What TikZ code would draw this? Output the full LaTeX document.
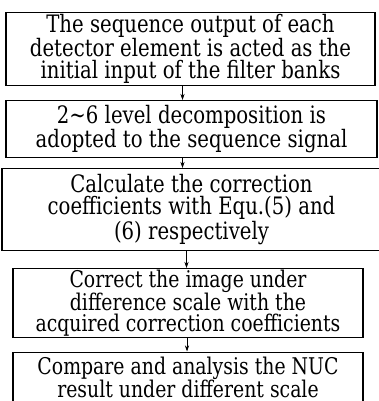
\documentclass[tikz,border=0pt]{standalone}
\usepackage{fontspec}
\setmainfont{DejaVu Serif}[FakeStretch=0.82]
\usetikzlibrary{arrows.meta}

\begin{document}
\begin{tikzpicture}[x=1pt,y=-1pt,
    stepbox/.style={draw, line width=1.2pt, inner sep=0pt, align=center,
        anchor=north, font=\fontsize{24}{22}\selectfont},
    arr/.style={-{Stealth[length=6pt,width=4pt]}, line width=0.7pt}]
    \useasboundingbox (0,0) rectangle (379,401);
    % the five steps
    \node[stepbox, minimum width=369pt, minimum height=73pt] (detect) at (190.5,12)
        {The sequence output of each\\detector element is acted as the\\initial input of the filter banks};
    \node[stepbox, minimum width=371pt, minimum height=57pt] (decomp) at (191.5,100)
        {2\textasciitilde6 level decomposition is\\adopted to the sequence signal};
    \node[stepbox, minimum width=379pt, minimum height=82pt] (coeff) at (191.5,168)
        {Calculate the correction\\coefficients with Equ.(5) and\\(6) respectively};
    \node[stepbox, minimum width=350pt, minimum height=69pt,
        font=\fontsize{23}{21}\selectfont] (correct) at (188,268)
        {Correct the image under\\difference scale with the\\acquired correction coefficients};
    \node[stepbox, minimum width=350pt, minimum height=51pt,
        font=\fontsize{23}{19.5}\selectfont] (compare) at (188,351.5)
        {Compare and analysis the NUC\\result under different scale};
    % arrows
    \draw[arr] ([xshift=-8pt]detect.south) -- ([xshift=-8pt]detect.south |- decomp.north);
    \draw[arr] ([xshift=-9pt]decomp.south) -- ([xshift=-9pt]decomp.south |- coeff.north);
    \draw[arr] ([xshift=-5pt]coeff.south) -- ([xshift=-5pt]coeff.south |- correct.north);
    \draw[arr] ([xshift=-1pt]correct.south) -- ([xshift=-1pt]correct.south |- compare.north);
\end{tikzpicture}
\end{document}
